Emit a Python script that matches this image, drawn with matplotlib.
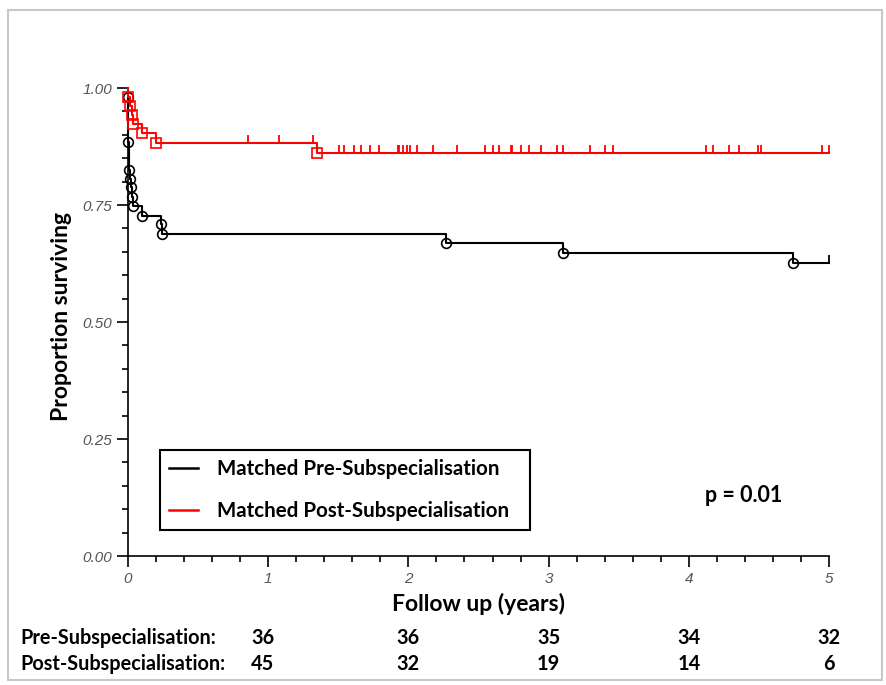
import matplotlib.pyplot as plt
import matplotlib.transforms as mtransforms
from matplotlib.lines import Line2D
from matplotlib.patches import Rectangle
import numpy as np


# events (time in years, survival after the drop)
pre_times = [0.0, 0.002, 0.007, 0.014, 0.021, 0.026, 0.038, 0.098, 0.235, 0.245, 2.266, 3.10, 4.745]
pre_surv = [0.981, 0.884, 0.825, 0.806, 0.788, 0.768, 0.748, 0.726, 0.709, 0.688, 0.668, 0.647, 0.627]
pre_censor = [5.0]

post_times = [0.003, 0.017, 0.032, 0.036, 0.102, 0.2, 1.346]
post_surv = [0.981, 0.962, 0.943, 0.924, 0.904, 0.883, 0.862]
post_censor = [
    0.854, 1.08, 1.317,
    1.507, 1.543, 1.614, 1.66, 1.726, 1.79, 1.924, 1.933, 1.964, 1.988,
    2.011, 2.059, 2.178, 2.344, 2.546, 2.601, 2.649, 2.73, 2.741, 2.803,
    2.863, 2.944, 3.058, 3.105, 3.295, 3.402, 3.462, 4.12, 4.17, 4.289,
    4.36, 4.496, 4.515, 4.952, 5.0
]

# numbers at risk
risk_labels = ["Pre-Subspecialisation:", "Post-Subspecialisation:"]
pre_risk = [36, 36, 35, 34, 32]
post_risk = [45, 32, 19, 14, 6]

bold_font = ["Lato", "DejaVu Sans"]


def surv_at(times, surv, t):
    s = 1.0
    for ti, si in zip(times, surv):
        if ti <= t:
            s = si
    return s


def draw_curve(ax, times, surv, censor, color, marker, msize):
    xs = [0.0] + list(times) + [max(censor)]
    ys = [1.0] + list(surv) + [surv[-1]]
    ax.step(xs, ys, where="post", color=color, lw=1.5, clip_on=False, zorder=3)
    ax.plot(times, surv, ls="none", marker=marker, ms=msize, mfc="none",
            mec=color, mew=1.2, clip_on=False, zorder=4)
    cy = [surv_at(times, surv, t) for t in censor]
    ax.plot(censor, cy, ls="none", marker=2, ms=6, color=color, mew=1.3,
            clip_on=False, zorder=4)


fig = plt.figure(figsize=(8.86, 6.85), dpi=100)
ax = fig.add_axes([128 / 886, 1 - 556 / 685, 701 / 886, 468 / 685])

draw_curve(ax, pre_times, pre_surv, pre_censor, "black", "o", 7)
draw_curve(ax, post_times, post_surv, post_censor, "#ff0000", "s", 7.5)

ax.set_xlim(0, 5)
ax.set_ylim(0, 1)

ax.spines["top"].set_visible(False)
ax.spines["right"].set_visible(False)
ax.spines["left"].set_linewidth(1.2)
ax.spines["bottom"].set_linewidth(1.2)

ax.set_xticks(np.arange(0, 6, 1))
ax.set_xticks(np.arange(0, 5.01, 0.2), minor=True)
ax.set_yticks([0, 0.25, 0.5, 0.75, 1.0])
ax.set_yticks(np.arange(0, 1.001, 0.05), minor=True)
ax.set_yticklabels(["0.00", "0.25", "0.50", "0.75", "1.00"])
ax.tick_params(which="major", length=8, width=1.2, colors="black",
               labelcolor="#555555", labelsize=11)
ax.tick_params(which="minor", length=4, width=1.2)
for lab in ax.get_xticklabels() + ax.get_yticklabels():
    lab.set_fontstyle("italic")
    lab.set_family(["Liberation Sans", "DejaVu Sans"])

ax.text(0.5, -(604 - 556) / 468, "Follow up (years)", transform=ax.transAxes,
        ha="center", va="center", fontsize=16.5, fontweight="bold",
        family=bold_font)
ax.text(-(128 - 62) / 701, (556 - 316) / 468, "Proportion surviving",
        transform=ax.transAxes, rotation=90, ha="center", va="center",
        fontsize=16.5, fontweight="bold", family=bold_font)

handles = [Line2D([0], [0], color="black", lw=1.8),
           Line2D([0], [0], color="#ff0000", lw=1.8)]
leg = ax.legend(handles, ["Matched Pre-Subspecialisation", "Matched Post-Subspecialisation"],
                loc="lower left", bbox_to_anchor=(32 / 701, 26 / 468, 370 / 701, 80 / 468),
                mode="expand", borderaxespad=0, fancybox=False, framealpha=1,
                edgecolor="black", handlelength=1.4, handletextpad=0.9,
                labelspacing=1.05, borderpad=0.45,
                prop={"family": bold_font, "weight": "bold", "size": 14.8})
leg.get_frame().set_linewidth(1.5)

ax.text(4.39, 0.13, "p = 0.01", ha="center", va="center", fontsize=15.5,
        fontweight="bold", family=bold_font)

# numbers at risk table
trans = mtransforms.blended_transform_factory(ax.transData, fig.transFigure)
col_x = [0.96, 2, 3, 4, 5]
rows_y = [1 - 638 / 685, 1 - 664 / 685]
for label, y, counts in zip(risk_labels, rows_y, [pre_risk, post_risk]):
    fig.text(20 / 886, y, label, ha="left", va="center", fontsize=14.3,
             fontweight="bold", family=bold_font)
    for x, n in zip(col_x, counts):
        fig.text(x, y, str(n), transform=trans, ha="center", va="center",
                 fontsize=14.3, fontweight="bold", family=bold_font)

# light grey frame round the picture
fig.patches.append(Rectangle((8 / 886, 5 / 685), 874 / 886, 670 / 685,
                             transform=fig.transFigure, fill=False,
                             edgecolor="#c8c8c8", lw=1.5))

fig.savefig("out.png", dpi=100)
